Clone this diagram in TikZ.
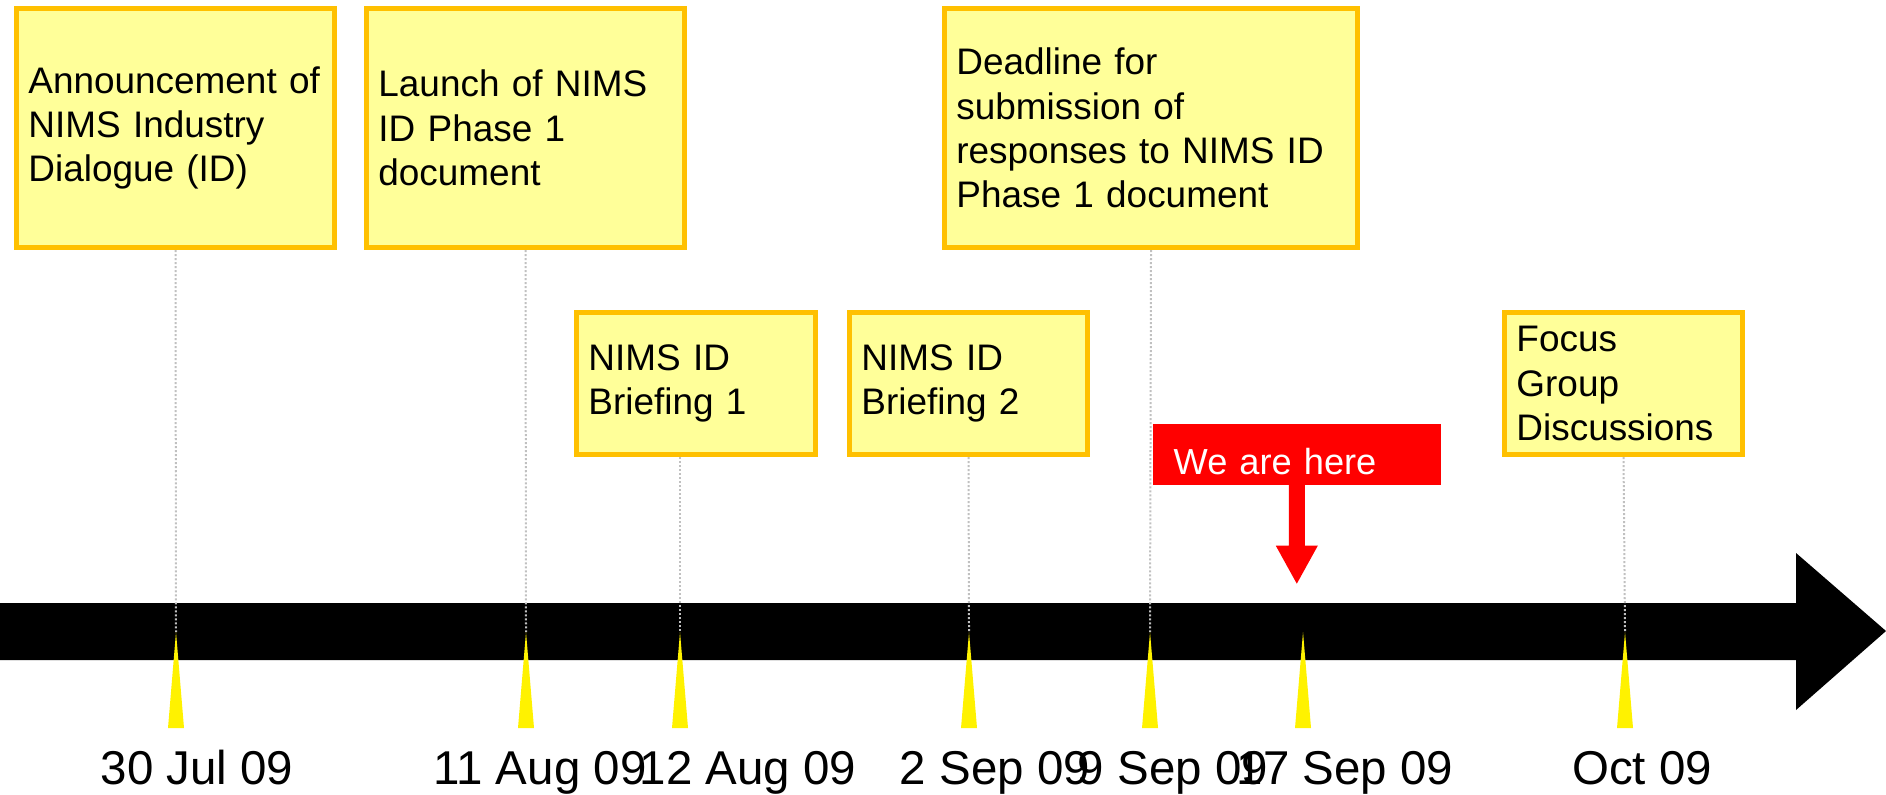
\documentclass[tikz,border=0pt]{standalone}
\usepackage{fontspec}
\setmainfont{Liberation Sans}
\definecolor{noteFill}{HTML}{FFFF99}
\definecolor{noteEdge}{HTML}{FFC000}
\definecolor{guideGray}{HTML}{C0C0C0}
\tikzset{
	note/.style={draw=noteEdge, fill=noteFill, line width=0.05cm, align=left,
		inner xsep=0.12cm, inner ysep=0pt, font=\fontsize{10.5}{12.6}\selectfont},
	guide/.style={guideGray, line width=0.02cm, dash pattern=on 0.02cm off 0.02cm},
	marker/.style={fill=yellow},
	date/.style={anchor=base, inner sep=0pt, font=\fontsize{13.5}{16}\selectfont},
}

\begin{document}
\begin{tikzpicture}[x=0.01cm, y=-0.01cm]
		\useasboundingbox (0,0) rectangle (1886,794);

		% Draw timeline arrow
		\fill (0,603) -- (1796,603) -- (1796,553) -- (1886,631) -- (1796,710) -- (1796,660) -- (0,660) -- cycle;

		\coordinate (t1) at (176,632);
		\coordinate (t2) at (526,632);
		\coordinate (t3) at (680,632);
		\coordinate (t4) at (969,632);
		\coordinate (t5) at (1150,632);
		\coordinate (t6) at (1303,632);
		\coordinate (t7) at (1625,632);

		% Event notes
		\node[note, minimum height=2.39cm, text width=2.94cm] (announce) at (175.5,128) {Announcement of\\NIMS Industry\\Dialogue (ID)};
		\node[note, minimum height=2.39cm, text width=2.94cm] (launch) at (525.5,128) {Launch of NIMS\\ID Phase 1\\document};
		\node[note, minimum height=2.39cm, text width=3.89cm] (deadline) at (1151,128) {Deadline for\\submission of\\responses to NIMS ID\\Phase 1 document};
		\node[note, minimum height=1.42cm, text width=2.15cm] (brief1) at (696,383.5) {NIMS ID\\Briefing 1};
		\node[note, minimum height=1.42cm, text width=2.14cm] (brief2) at (968.5,383.5) {NIMS ID\\Briefing 2};
		\node[note, minimum height=1.42cm, text width=2.14cm] (focus) at (1623.5,383.5) {Focus\\Group\\Discussions};

		\draw[guide] (announce.south) -- (t1);
		\draw[guide] (launch.south) -- (t2);
		\draw[guide] (brief1.south -| t3) -- (t3);
		\draw[guide] (brief2.south) -- (t4);
		\draw[guide] (deadline.south) -- (t5);
		\draw[guide] (focus.south) -- (t7);

		\foreach \t in {1,...,7}
			\fill[marker] (t\t) -- ++(8,96) -- ++(-16,0) -- cycle;

		% Dates
		\node[date] (d1) at (197,784) {30 Jul 09};
		\node[date] (d2) at (540,784) {11 Aug 09};
		\node[date] (d3) at (748,784) {12 Aug 09};
		\node[date] (d4) at (995,784) {2 Sep 09};
		\node[date] (d5) at (1173,784) {9 Sep 09};
		\node[date] (d6) at (1345,784) {17 Sep 09};
		\node[date] (d7) at (1642,784) {Oct 09};

		% We are here
		\node[fill=red, text=white, anchor=base west, inner xsep=0.21cm, inner ysep=0pt,
			text width=2.46cm, text height=0.50cm, text depth=0.11cm,
			font=\fontsize{10.3}{12}\selectfont] (here) at (1152,474) {We are here};
		\coordinate (pin) at (here.south);
		\fill[red] (pin) ++(-8,-1) -- ++(0,61) -- ++(-13,0) -- ++(21,38) -- ++(21,-38) -- ++(-13,0) -- ++(0,-61) -- cycle;
	\end{tikzpicture}
\end{document}
